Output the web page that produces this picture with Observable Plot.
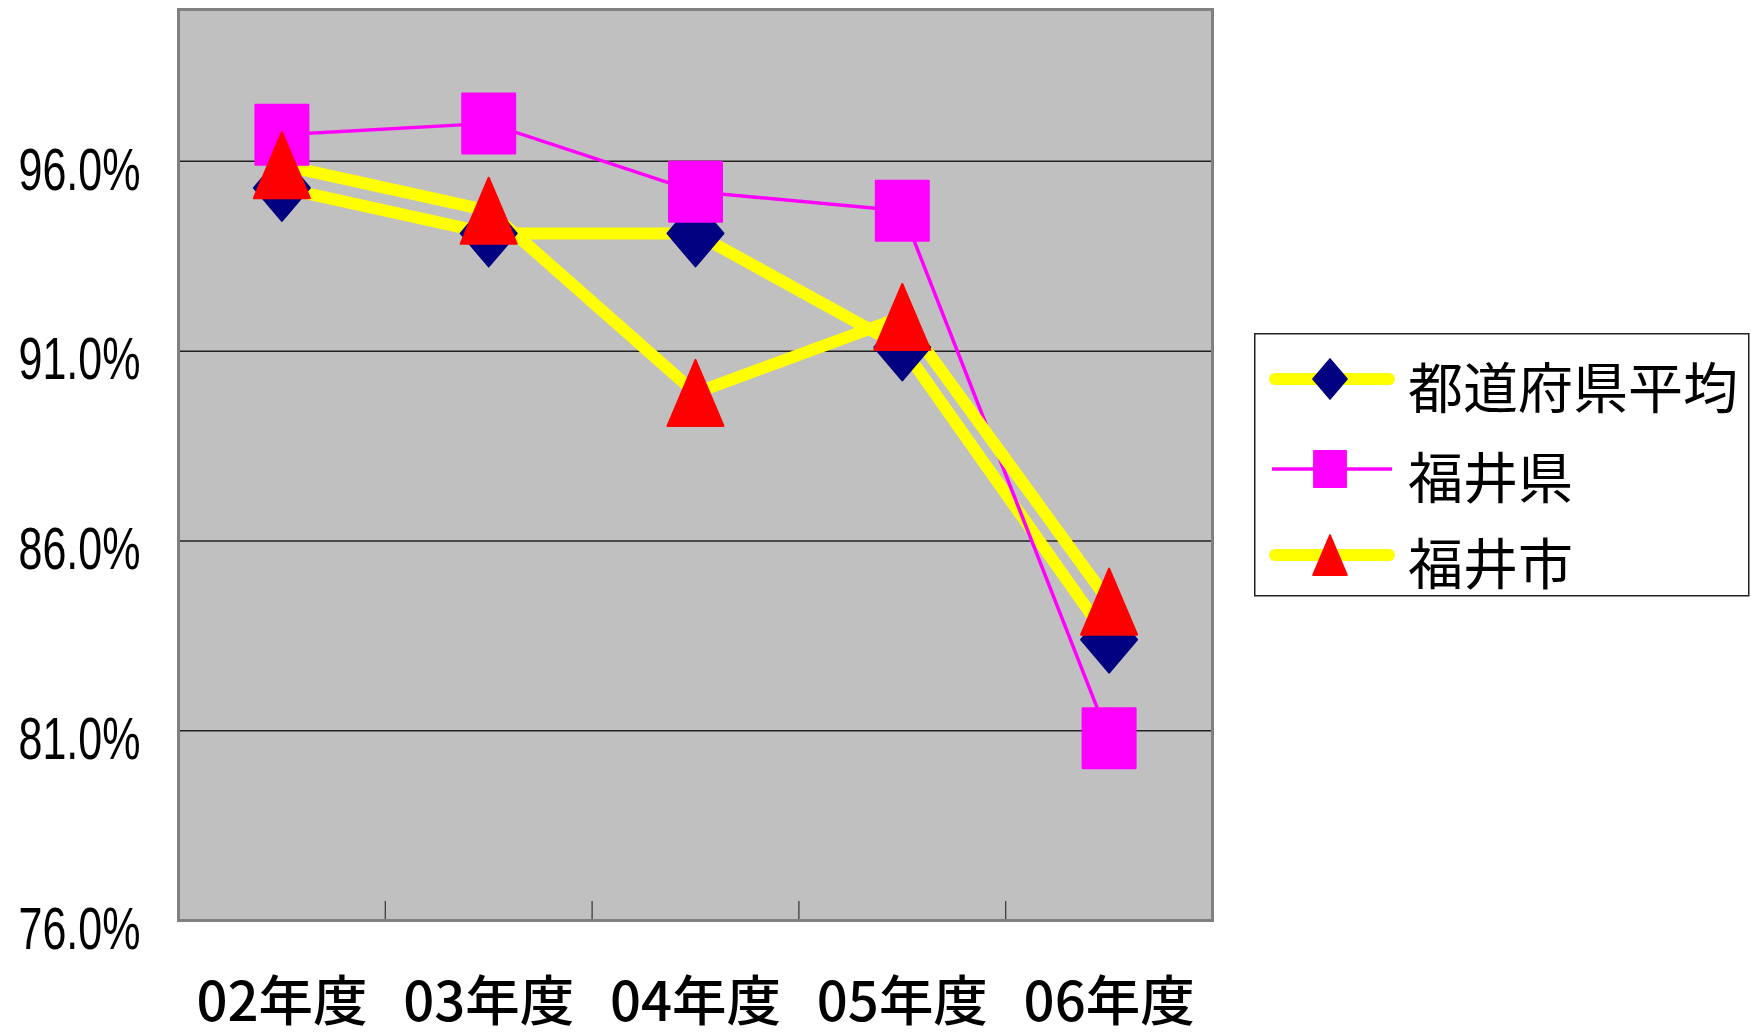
<!DOCTYPE html>
<html>
<head>
<meta charset="utf-8">
<script src="https://cdn.jsdelivr.net/npm/d3@7"></script>
<script src="https://cdn.jsdelivr.net/npm/@observablehq/plot@0.6"></script>
<style>
  html, body { margin: 0; padding: 0; background: #ffffff; }
  #wrap { position: relative; width: 1751px; height: 1036px; overflow: hidden; }
  #legend { position: absolute; left: 1254px; top: 333px; overflow: visible; }
</style>
</head>
<body>
<div id="wrap"><div id="chart"></div><svg id="legend" width="496" height="300"></svg></div>
<script>
// ---- data ----
const years = ["02年度", "03年度", "04年度", "05年度", "06年度"];
const seriesNames = ["都道府県平均", "福井県", "福井市"];
const nationalAvg = [95.3, 94.1, 94.1, 91.1, 83.4];
const fukuiPref = [96.7, 97.0, 95.2, 94.7, 80.8];
const fukuiCity = [95.9, 94.7, 89.9, 91.9, 84.4];
const yTicks = [76, 81, 86, 91, 96];
const gridTicks = [81, 86, 91, 96];

// ---- custom marker shapes (bounding-box centred, like the spreadsheet) ----
function diamondSym(w, h) {
  return {draw(ctx, size) {
    const k = Math.sqrt(size / Math.PI);
    ctx.moveTo(0, -h / 2 * k); ctx.lineTo(w / 2 * k, 0);
    ctx.lineTo(0, h / 2 * k); ctx.lineTo(-w / 2 * k, 0); ctx.closePath();
  }};
}
function rectSym(w, h) {
  return {draw(ctx, size) {
    const k = Math.sqrt(size / Math.PI);
    ctx.rect(-w / 2 * k, -h / 2 * k, w * k, h * k);
  }};
}
function triSym(w, h) {
  return {draw(ctx, size) {
    const k = Math.sqrt(size / Math.PI);
    ctx.moveTo(0, -h / 2 * k); ctx.lineTo(w / 2 * k, h / 2 * k);
    ctx.lineTo(-w / 2 * k, h / 2 * k); ctx.closePath();
  }};
}
const diamond = diamondSym(56, 66);
const square = rectSym(53, 60);
const triangle = triSym(56, 66);

const styles = [
  {name: seriesNames[0], values: nationalAvg, line: "#FFFF00", lw: 12, sym: diamond, fill: "#000080"},
  {name: seriesNames[1], values: fukuiPref, line: "#FF00FF", lw: 3.5, sym: square, fill: "#FF00FF"},
  {name: seriesNames[2], values: fukuiCity, line: "#FFFF00", lw: 12, sym: triangle, fill: "#FF0000"}
];
const rows = styles.map(s => s.values.map((v, i) => ({i, year: years[i], series: s.name, value: v})));

const chart = Plot.plot({
  width: 1751,
  height: 1036,
  marginLeft: 178,
  marginRight: 539,
  marginTop: 9,
  marginBottom: 116,
  style: {background: "transparent", fontFamily: "'Noto Sans CJK JP', sans-serif"},
  x: {type: "linear", domain: [-0.5, years.length - 0.5]},
  y: {domain: [76, 100]},
  marks: [
    Plot.frame({fill: "#C0C0C0"}),
    Plot.ruleY(gridTicks, {stroke: "#222222", strokeWidth: 1.5}),
    Plot.ruleX(d3.range(years.length - 1).map(i => i + 0.5), {y1: 76, y2: 76.5, stroke: "#333333", strokeWidth: 1.2}),
    Plot.frame({stroke: "#808080", strokeWidth: 3}),
    Plot.axisY(yTicks, {
      tickSize: 0, tickPadding: 38, dy: 9, label: null,
      tickFormat: d => d.toFixed(1) + "%",
      fontSize: 60, fontFamily: "'Liberation Sans', Arial, sans-serif", fill: "#000"
    }),
    Plot.axisX(d3.range(years.length), {
      tickSize: 0, tickPadding: 62, label: null,
      tickFormat: i => years[i],
      fontSize: 54, fontWeight: 500, fontFamily: "'Noto Sans CJK JP', sans-serif", fill: "#000"
    }),
    ...styles.map((s, k) => Plot.line(rows[k], {
      x: "i", y: "value", stroke: s.line, strokeWidth: s.lw,
      strokeLinejoin: "round", strokeLinecap: "butt"
    })),
    ...styles.map((s, k) => Plot.dot(rows[k], {
      x: "i", y: "value", symbol: s.sym, r: 1,
      fill: s.fill, stroke: s.fill, strokeWidth: 2, strokeLinejoin: "round"
    }))
  ]
});
document.getElementById("chart").appendChild(chart);

// condensed tick labels, as in the reference
chart.querySelectorAll('[aria-label="y-axis tick label"] text').forEach(t => {
  t.setAttribute("textLength", 122);
  t.setAttribute("lengthAdjust", "spacingAndGlyphs");
});
chart.querySelectorAll('[aria-label="x-axis tick label"] text').forEach(t => {
  t.setAttribute("textLength", 171);
  t.setAttribute("lengthAdjust", "spacingAndGlyphs");
});

// ---- legend ----
const lg = d3.select("#legend");
lg.append("rect").attr("x", 0.75).attr("y", 0.75).attr("width", 494).attr("height", 262)
  .attr("fill", "#fff").attr("stroke", "#222").attr("stroke-width", 1.5);
const rowY = [46, 136, 222];
styles.forEach((s, k) => {
  const g = lg.append("g").attr("transform", `translate(0,${rowY[k]})`);
  g.append("line").attr("x1", s.lw > 5 ? 21 : 18).attr("x2", s.lw > 5 ? 135 : 138)
    .attr("stroke", s.line).attr("stroke-width", s.lw).attr("stroke-linecap", s.lw > 5 ? "round" : "butt");
  g.append("path").attr("transform", "translate(76,0)")
    .attr("d", d3.symbol(s.sym, Math.PI * 0.61 * 0.61)())
    .attr("fill", s.fill).attr("stroke", s.fill).attr("stroke-width", 1.5).attr("stroke-linejoin", "round");
  g.append("text").attr("x", 154).attr("y", 5).attr("dominant-baseline", "central")
    .attr("font-family", "'Noto Sans CJK JP', sans-serif").attr("font-size", 55).attr("fill", "#000")
    .text(s.name);
});
</script>
</body>
</html>
